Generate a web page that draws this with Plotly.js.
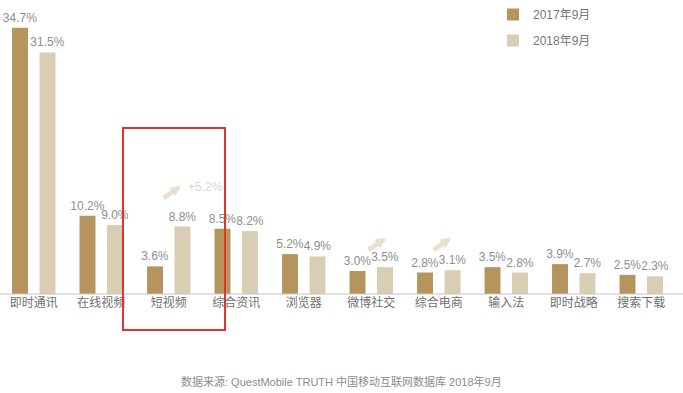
<!DOCTYPE html>
<html>
<head>
<meta charset="utf-8">
<script src="https://cdn.plot.ly/plotly-3.0.1.min.js"></script>
<style>html,body{margin:0;padding:0;background:#fff;}#chart{width:683px;height:393px;}</style>
</head>
<body>
<div id="chart"></div>
<script>
const categories = ["即时通讯","在线视频","短视频","综合资讯","浏览器","微博社交","综合电商","输入法","即时战略","搜索下载"];
const values2017 = [34.7, 10.2, 3.6, 8.5, 5.2, 3.0, 2.8, 3.5, 3.9, 2.5];
const values2018 = [31.5, 9.0, 8.8, 8.2, 4.9, 3.5, 3.1, 2.8, 2.7, 2.3];
const seriesNames = ["2017年9月", "2018年9月"];
const sourceText = "数据来源: QuestMobile TRUTH 中国移动互联网数据库 2018年9月";

const FONT = "Liberation Sans, Noto Sans CJK SC, sans-serif";
const fmt = v => v.toFixed(1) + "%";

const traces = [
  {type:"bar", name:seriesNames[0], x:categories, y:values2017, text:values2017.map(fmt),
   textposition:"outside", constraintext:"none", cliponaxis:false, textfont:{size:12,color:"#8e8e8e",family:FONT},
   marker:{color:"#b5955d"}, legendgroup:"a", hoverinfo:"none"},
  {type:"bar", name:seriesNames[1], x:categories, y:values2018, text:values2018.map(fmt),
   textposition:"outside", constraintext:"none", cliponaxis:false, textfont:{size:12,color:"#8e8e8e",family:FONT},
   marker:{color:"#d9cdb3"}, legendgroup:"b", hoverinfo:"none"}
];

const H = 294, W = 675;
const arrow = (hx, hy) => ({xref:"paper", yref:"paper", x:hx/W, y:(H-hy)/H, ax:-19, ay:13,
  showarrow:true, arrowhead:2, arrowsize:0.42, arrowwidth:5, arrowcolor:"#e9e1d0", text:""});

const layout = {
  width:683, height:393,
  margin:{l:0, r:8, t:0, b:99, pad:0},
  paper_bgcolor:"#fff", plot_bgcolor:"#fff",
  font:{family:FONT, color:"#666"},
  barmode:"group", bargap:0.186, bargroupgap:0.42,
  showlegend:true,
  legend:{x:493/W, y:1.0, xanchor:"left", yanchor:"top", tracegroupgap:7,
    font:{size:12, color:"#777", family:FONT}, bgcolor:"rgba(0,0,0,0)"},
  xaxis:{type:"category", showgrid:false, zeroline:false, showline:false,
    ticks:"", tickfont:{size:12, color:"#707070", family:FONT}, fixedrange:true},
  yaxis:{range:[0, 38.33], visible:false, showgrid:false, zeroline:false, fixedrange:true},
  shapes:[
    {type:"line", xref:"paper", yref:"paper", x0:0, x1:683/W, y0:0, y1:0, line:{color:"#c4c4c4", width:1}},
    {type:"rect", xref:"paper", yref:"paper", x0:123/W, x1:225/W, y0:(H-330)/H, y1:(H-128)/H,
     line:{color:"#e0352b", width:2}}
  ],
  annotations:[
    arrow(181,186), arrow(386,238), arrow(451,238),
    {xref:"paper", yref:"paper", x:205/W, y:(H-187)/H, xanchor:"center", yanchor:"middle", text:"+5.2%", showarrow:false,
     font:{size:12, color:"#d6d6d6", family:FONT}},
    {xref:"paper", yref:"paper", x:341/W, y:(H-381)/H, xanchor:"center", yanchor:"middle", text:sourceText, showarrow:false,
     font:{size:11, color:"#8c8c8c", family:FONT}}
  ]
};

Plotly.newPlot("chart", traces, layout, {displayModeBar:false, staticPlot:true});
</script>
</body>
</html>
